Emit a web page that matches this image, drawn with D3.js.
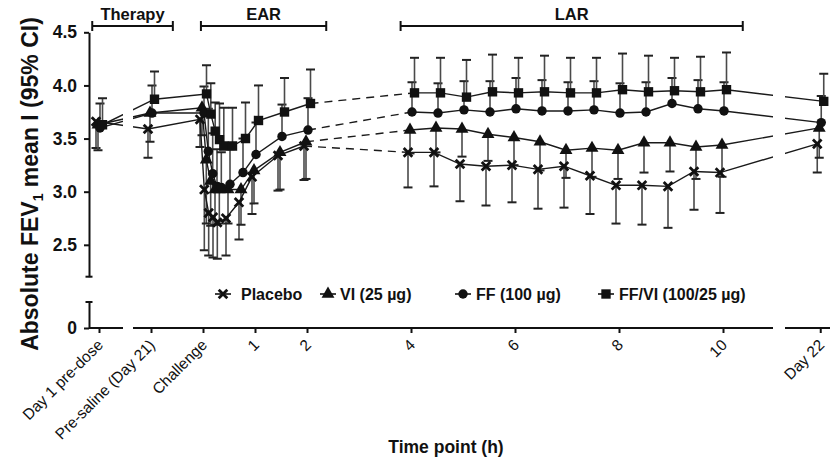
<!DOCTYPE html>
<html><head><meta charset="utf-8">
<script src="https://cdn.jsdelivr.net/npm/d3@7"></script>
<style>body{margin:0;background:#fff}svg{display:block}text{font-family:"Liberation Sans",Arial,sans-serif;fill:#111}</style>
</head><body><svg id="c" width="830" height="465"></svg>
<script>
// ---- data ----
const times = [-2, -1, 0, 0.083, 0.167, 0.25, 0.333, 0.5, 0.75, 1, 1.5, 2,
  4, 4.5, 5, 5.5, 6, 6.5, 7, 7.5, 8, 8.5, 9, 9.5, 10, 11.87];
const tickValues = [-2, -1, 0, 1, 2, 4, 6, 8, 10, 11.87];
const tickLabels = ["Day 1 pre-dose", "Pre-saline (Day 21)", "Challenge", "1", "2", "4", "6", "8", "10", "Day 22"];
const yTicks = [2.5, 3.0, 3.5, 4.0, 4.5];
const seriesNames = ["Placebo", "VI (25 \u00b5g)", "FF (100 \u00b5g)", "FF/VI (100/25 \u00b5g)"];

const placebo   = [3.66, 3.59, 3.68, 3.02, 2.80, 2.76, 2.71, 2.75, 2.90, 3.14, 3.34, 3.43,
  3.37, 3.37, 3.26, 3.24, 3.25, 3.21, 3.24, 3.15, 3.06, 3.06, 3.05, 3.19, 3.18, 3.45];
const placeboCI = [0.25, 0.27, 0.26, 0.57, 0.40, 0.38, 0.34, 0.35, 0.35, 0.35, 0.33, 0.32,
  0.33, 0.32, 0.35, 0.37, 0.35, 0.37, 0.39, 0.36, 0.36, 0.37, 0.39, 0.36, 0.38, 0.27];

const vi   = [3.63, 3.74, 3.79, 3.30, 3.10, 3.02, 3.02, 3.02, 3.02, 3.20, 3.37, 3.47,
  3.58, 3.60, 3.59, 3.54, 3.51, 3.47, 3.39, 3.41, 3.39, 3.46, 3.46, 3.42, 3.44, 3.60];
const viCI = [0.24, 0.27, 0.26, 0.60, 0.42, 0.33, 0.32, 0.32, 0.33, 0.31, 0.35, 0.35,
  0.22, 0.23, 0.26, 0.25, 0.26, 0.27, 0.26, 0.27, 0.27, 0.28, 0.27, 0.30, 0.30, 0.28];

const ff   = [3.60, 3.74, 3.74, 3.38, 3.17, 3.05, 3.04, 3.07, 3.18, 3.35, 3.52, 3.58,
  3.75, 3.74, 3.77, 3.75, 3.78, 3.76, 3.76, 3.77, 3.74, 3.75, 3.83, 3.78, 3.76, 3.65];
const ffCI = [0.23, 0.26, 0.25, 0.40, 0.38, 0.35, 0.33, 0.33, 0.32, 0.30, 0.30, 0.30,
  0.28, 0.28, 0.27, 0.29, 0.29, 0.29, 0.27, 0.27, 0.28, 0.28, 0.24, 0.27, 0.27, 0.25];

const ffvi   = [3.63, 3.87, 3.92, 3.73, 3.57, 3.49, 3.43, 3.43, 3.50, 3.67, 3.75, 3.83,
  3.93, 3.93, 3.89, 3.94, 3.93, 3.94, 3.93, 3.93, 3.96, 3.94, 3.95, 3.94, 3.96, 3.85];
const ffviCI = [0.25, 0.26, 0.27, 0.29, 0.27, 0.34, 0.36, 0.36, 0.34, 0.33, 0.32, 0.32,
  0.33, 0.33, 0.35, 0.35, 0.33, 0.34, 0.33, 0.33, 0.34, 0.34, 0.31, 0.33, 0.35, 0.26];

const phaseNames = ["Therapy", "EAR", "LAR"];
const phaseStart = [-2.13, -0.04, 3.8];
const phaseEnd = [-0.58, 2.37, 10.38];

// ---- setup ----
const svg = d3.select("#c");
const x = d3.scaleLinear().domain([-2, 12]).range([99, 827]);
const y = d3.scaleLinear().domain([2.2, 4.5]).range([276.7, 32.3]);
const yLow = d3.scaleLinear().domain([0, 1]).range([328, 302]);
const AX = 89, AY = 328;

const series = [
  {name: seriesNames[0], v: placebo, ci: placeboCI, dir: -1, sym: d3.symbolTimes, dx: -3},
  {name: seriesNames[1], v: vi, ci: viCI, dir: -1, sym: d3.symbolTriangle, dx: -1},
  {name: seriesNames[2], v: ff, ci: ffCI, dir: 1, sym: d3.symbolCircle, dx: 1},
  {name: seriesNames[3], v: ffvi, ci: ffviCI, dir: 1, sym: d3.symbolSquare, dx: 3.5}
];
function symPath(s) {
  if (s === d3.symbolTimes) return d3.symbol(s, 50)();
  if (s === d3.symbolSquare) return d3.symbol(s, 88)();
  if (s === d3.symbolCircle) return d3.symbol(s, 70)();
  return d3.symbol(s, 72)();
}
function drawSym(g, s) {
  const p = g.append("path").attr("d", symPath(s));
  if (s === d3.symbolTimes) p.attr("fill", "none").attr("stroke", "#111").attr("stroke-width", 2.8);
  else p.attr("fill", "#111");
  return p;
}

// clip for broken x axis
const defs = svg.append("defs");
const cp = defs.append("clipPath").attr("id", "brk");
[[0, 123], [133, 773], [785, 830]].forEach(r =>
  cp.append("rect").attr("x", r[0]).attr("y", 0).attr("width", r[1] - r[0]).attr("height", 340));

const plot = svg.append("g").attr("clip-path", "url(#brk)");

// error bars
series.forEach(s => {
  const g = plot.append("g");
  s.v.forEach((v, i) => {
    const xx = x(times[i]) + s.dx;
    const ye = y(v + s.dir * s.ci[i]);
    g.append("line").attr("x1", xx).attr("x2", xx).attr("y1", y(v)).attr("y2", ye)
      .attr("stroke", "#4a4a4a").attr("stroke-width", 1.6);
    g.append("line").attr("x1", xx - 4.5).attr("x2", xx + 4.5).attr("y1", ye).attr("y2", ye)
      .attr("stroke", "#222").attr("stroke-width", 2);
  });
});

// lines
series.forEach(s => {
  const pts = s.v.map((v, i) => [x(times[i]) + s.dx, y(v)]);
  const line = d3.line();
  plot.append("path").attr("d", line(pts.slice(0, 12))).attr("fill", "none")
    .attr("stroke", "#1a1a1a").attr("stroke-width", 1.4);
  plot.append("path").attr("d", line(pts.slice(11, 13))).attr("fill", "none")
    .attr("stroke", "#1a1a1a").attr("stroke-width", 1.4).attr("stroke-dasharray", "8,6");
  plot.append("path").attr("d", line(pts.slice(12))).attr("fill", "none")
    .attr("stroke", "#1a1a1a").attr("stroke-width", 1.4);
});

// markers
series.forEach(s => {
  s.v.forEach((v, i) => {
    const g = plot.append("g").attr("transform", `translate(${x(times[i]) + s.dx},${y(v)})`);
    drawSym(g, s.sym);
  });
});

// ---- axes ----
const yAx = svg.append("g").attr("transform", `translate(${AX},0)`)
  .call(d3.axisLeft(y).tickValues(yTicks).tickSize(5).tickSizeOuter(0).tickPadding(7).tickFormat(d3.format(".1f")));
const yAxL = svg.append("g").attr("transform", `translate(${AX},0)`)
  .call(d3.axisLeft(yLow).tickValues([0]).tickSize(5).tickSizeOuter(0).tickPadding(7).tickFormat(d3.format("d")));
[yAx, yAxL].forEach(g => {
  g.select(".domain").attr("stroke", "#111").attr("stroke-width", 2);
  g.selectAll(".tick line").attr("stroke", "#111").attr("stroke-width", 2);
  g.selectAll(".tick text").attr("font-size", 17.5).attr("font-weight", "bold").attr("fill", "#111");
});
// break caps on y-axis
[y(2.2), yLow(1)].forEach(yy =>
  svg.append("line").attr("x1", AX - 3.5).attr("x2", AX + 3.5).attr("y1", yy).attr("y2", yy)
    .attr("stroke", "#111").attr("stroke-width", 2));

// x axis
const xAx = svg.append("g").attr("transform", `translate(0,${AY})`)
  .call(d3.axisBottom(x).tickValues(tickValues).tickSize(5).tickFormat(""));
xAx.select(".domain").remove();
xAx.selectAll(".tick line").attr("stroke", "#111").attr("stroke-width", 2);
[[AX, 123], [133, 773], [785, 830]].forEach(r =>
  svg.append("line").attr("x1", r[0]).attr("x2", r[1]).attr("y1", AY).attr("y2", AY)
    .attr("stroke", "#111").attr("stroke-width", 2.2));
tickValues.forEach((t, i) => {
  svg.append("text").attr("transform", `translate(${x(t) + 5},${AY + 18}) rotate(-45)`)
    .attr("text-anchor", "end").attr("font-size", 15.5).text(tickLabels[i]);
});

// titles
const yt = svg.append("text").attr("transform", `translate(38,184) rotate(-90)`)
  .attr("text-anchor", "middle").attr("font-size", 23).attr("font-weight", "bold");
yt.append("tspan").text("Absolute FEV");
yt.append("tspan").attr("font-size", 14).attr("dy", 5).text("1");
yt.append("tspan").attr("dy", -5).text(" mean I (95% CI)");

svg.append("text").attr("x", 446).attr("y", 453).attr("text-anchor", "middle")
  .attr("font-size", 17.5).attr("font-weight", "bold").text("Time point (h)");

// phase brackets
phaseNames.forEach((p, i) => {
  const x1 = x(phaseStart[i]), x2 = x(phaseEnd[i]);
  const g = svg.append("g");
  g.append("line").attr("x1", x1).attr("x2", x2).attr("y1", 26).attr("y2", 26).attr("stroke", "#111").attr("stroke-width", 2);
  [x1, x2].forEach(xx => g.append("line").attr("x1", xx).attr("x2", xx).attr("y1", 21).attr("y2", 31)
    .attr("stroke", "#111").attr("stroke-width", 2));
  g.append("text").attr("x", (x1 + x2) / 2).attr("y", 20).attr("text-anchor", "middle")
    .attr("font-size", 16.5).attr("font-weight", "bold").text(p);
});

// legend
const legLineX = [215, 320, 455, 598];
const legTextX = [241, 340, 476, 619];
series.forEach((s, i) => {
  const g = svg.append("g");
  g.append("line").attr("x1", legLineX[i]).attr("x2", legLineX[i] + 16).attr("y1", 294).attr("y2", 294)
    .attr("stroke", "#111").attr("stroke-width", 1.6);
  const m = g.append("g").attr("transform", `translate(${legLineX[i] + 8},294)`);
  drawSym(m, s.sym);
  g.append("text").attr("x", legTextX[i]).attr("y", 300).attr("font-size", 16)
    .attr("font-weight", "bold").text(s.name);
});
</script></body></html>
